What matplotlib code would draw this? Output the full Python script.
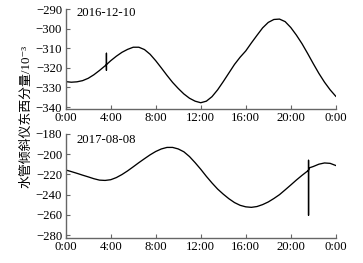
import matplotlib
matplotlib.use('Agg')
import matplotlib.pyplot as plt

plt.rcParams['font.family'] = ['Liberation Serif', 'Noto Sans CJK SC', 'DejaVu Sans']

# 2016-12-10, hours and tilt values (spike near 3:37)
t1 = [0, 0.5, 1, 1.5, 2, 2.5, 3, 3.5, 3.62, 3.62, 3.62, 3.62, 4, 4.5, 5, 5.5, 6, 6.5, 7,
      7.5, 8, 8.5, 9, 9.5, 10, 10.5, 11, 11.5, 12, 12.5, 13, 13.5, 14, 14.5, 15, 15.5,
      16, 16.5, 17, 17.5, 18, 18.5, 19, 19.5, 20, 20.5, 21, 21.5, 22, 22.5, 23, 23.5, 24]
v1 = [-327, -327.3, -327.1, -326.5, -325.3, -323.5, -321.3, -318.9, -318.3, -312.5,
      -321.2, -318.3, -316.3, -314, -312, -310.5, -309.4, -309.4, -310.6,
      -313, -316.3, -320, -323.8, -327.4, -330.5, -333.3, -335.5, -337, -337.8, -337,
      -334.7, -331.2, -327, -322.6, -318.2, -314.5,
      -311.3, -307.2, -303.3, -299.5, -296.7, -295.2, -295, -296.3, -299.3, -303.2,
      -307.6, -312.6, -317.8, -322.8, -327.3, -331.2, -334.5]

# 2017-08-08 (spike near 21:35)
t2 = [0, 0.5, 1, 1.5, 2, 2.5, 3, 3.5, 4, 4.5, 5, 5.5, 6, 6.5, 7, 7.5, 8, 8.5, 9, 9.5,
      10, 10.5, 11, 11.5, 12, 12.5, 13, 13.5, 14, 14.5, 15, 15.5, 16, 16.5, 17, 17.5,
      18, 18.5, 19, 19.5, 20, 20.5, 21, 21.58, 21.58, 21.58, 21.58, 21.68, 22, 22.5,
      23, 23.5, 24]
v2 = [-215.7, -217.3, -219, -220.8, -222.5, -224.3, -225.7, -226, -225.3, -223.2,
      -220.2, -216.6, -212.6, -208.5, -204.6, -200.8, -197.5, -195, -193.5, -193.5,
      -195, -197.8, -202.5, -208.5, -215, -222, -228.5, -234.5, -239.5, -244, -247.8,
      -250.5, -252, -252.5, -251.7, -249.8,
      -247.2, -243.8, -240, -235.3, -230.5, -225.6, -221, -216, -206.2, -260.3, -215.5,
      -213.5, -212.3, -210, -208.8, -209.2, -211.3]

xticks = [0, 4, 8, 12, 16, 20, 24]
xlabels = ['0:00', '4:00', '8:00', '12:00', '16:00', '20:00', '0:00']

fig = plt.figure(figsize=(3.63, 2.63), dpi=100)
ax1 = fig.add_axes([0.181, 0.5856, 0.744, 0.379])
ax2 = fig.add_axes([0.181, 0.095, 0.744, 0.3966])

panels = [(ax1, t1, v1, '2016-12-10', (-341, -290), range(-340, -289, 10), 0.963),
          (ax2, t2, v2, '2017-08-08', (-282.7, -180), range(-280, -179, 20), 0.94)]

for ax, t, v, date, ylim, yt, ty in panels:
    ax.plot(t, v, color='black', lw=0.95)
    ax.set_xlim(0, 24)
    ax.set_ylim(*ylim)
    ax.set_yticks(list(yt))
    ax.set_xticks(xticks)
    ax.set_xticklabels(xlabels)
    for s in ['top', 'right']:
        ax.spines[s].set_visible(False)
    for s in ['left', 'bottom']:
        ax.spines[s].set_color('#666666')
        ax.spines[s].set_linewidth(1.0)
    ax.tick_params(direction='in', length=3, width=0.8, color='#666666',
                   labelsize=9.2, pad=2.5)
    ax.text(0.04, ty, date, transform=ax.transAxes, fontsize=9.2, va='center', ha='left')

fig.text(0.072, 0.559, '水管倾斜仪东西分量/10⁻³', rotation=90,
         fontsize=9.3, va='center', ha='center')

fig.savefig('out.png', dpi=100)
